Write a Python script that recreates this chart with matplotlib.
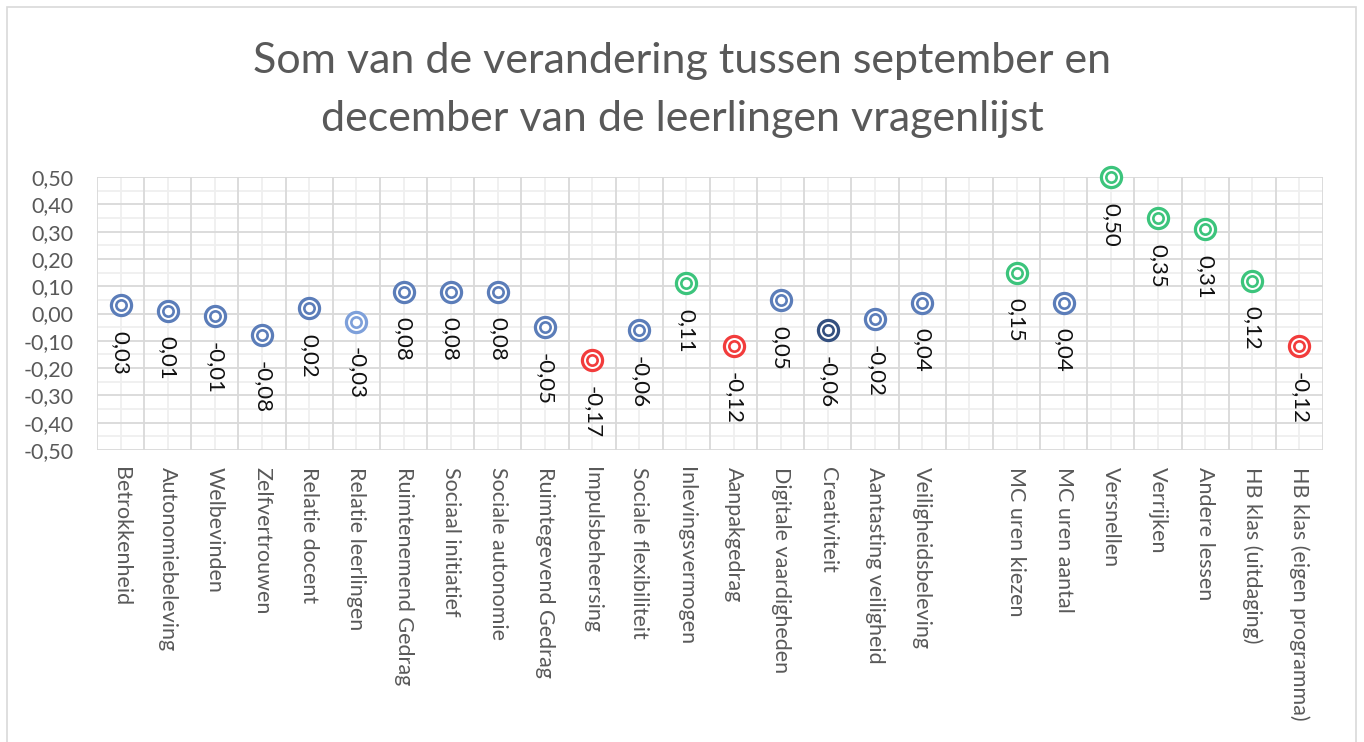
import matplotlib
matplotlib.use("Agg")
import matplotlib.pyplot as plt
from matplotlib.ticker import FixedLocator, FuncFormatter
from matplotlib.patches import Rectangle

plt.rcParams['font.family'] = ['Lato', 'DejaVu Sans']

title = "Som van de verandering tussen september en\ndecember van de leerlingen vragenlijst"

categories = ["Betrokkenheid", "Autonomiebeleving", "Welbevinden", "Zelfvertrouwen",
              "Relatie docent", "Relatie leerlingen", "Ruimtenemend Gedrag",
              "Sociaal initiatief", "Sociale autonomie", "Ruimtegevend Gedrag",
              "Impulsbeheersing", "Sociale flexibiliteit", "Inlevingsvermogen",
              "Aanpakgedrag", "Digitale vaardigheden", "Creativiteit",
              "Aantasting veiligheid", "Veiligheidsbeleving", "",
              "MC uren kiezen", "MC uren aantal", "Versnellen", "Verrijken",
              "Andere lessen", "HB klas (uitdaging)", "HB klas (eigen programma)"]

values = [0.03, 0.01, -0.01, -0.08, 0.02, -0.03, 0.08, 0.08, 0.08, -0.05,
          -0.17, -0.06, 0.11, -0.12, 0.05, -0.06, -0.02, 0.04, None,
          0.15, 0.04, 0.50, 0.35, 0.31, 0.12, -0.12]

BLUE = "#5B7DB9"
LBLUE = "#7EA0DA"
DBLUE = "#34507F"
GREEN = "#3CC47C"
RED = "#F23C3C"
colors = [BLUE, BLUE, BLUE, BLUE, BLUE, LBLUE, BLUE, BLUE, BLUE, BLUE,
          RED, BLUE, GREEN, RED, BLUE, DBLUE, BLUE, BLUE, None,
          GREEN, BLUE, GREEN, GREEN, GREEN, GREEN, RED]

yticks = [-0.5, -0.4, -0.3, -0.2, -0.1, 0.0, 0.1, 0.2, 0.3, 0.4, 0.5]

W, H = 1364, 742
fig = plt.figure(figsize=(W / 100, H / 100), dpi=100)
fig.patch.set_facecolor("white")

# chart border
fig.add_artist(Rectangle((7 / W, -0.05), (1356 - 7) / W, (H - 7) / H + 0.05,
                         transform=fig.transFigure, fill=False,
                         edgecolor="#D9D9D9", linewidth=1.2))

left, right, top, bottom = 97, 1323, 177, 450
ax = fig.add_axes([left / W, 1 - bottom / H, (right - left) / W, (bottom - top) / H])

n = len(categories)
ax.set_xlim(-0.5, n - 0.5)
ax.set_ylim(-0.5, 0.5)

# grid: light minor lines, darker major lines
for k in range(len(yticks) - 1):
    ax.axhline((yticks[k] + yticks[k + 1]) / 2, color="#EFEFEF", linewidth=1.3, zorder=0.5)
for x in range(n):
    ax.axvline(x, color="#EFEFEF", linewidth=1.3, zorder=0.5)
for y in yticks:
    ax.axhline(y, color="#D9D9D9", linewidth=1.3, zorder=0.6)
for x in [i + 0.5 for i in range(-1, n)]:
    ax.axvline(x, color="#D9D9D9", linewidth=1.3, zorder=0.6)

for s in ax.spines.values():
    s.set_visible(False)

ax.xaxis.set_major_locator(FixedLocator(list(range(n))))
ax.set_xticklabels(categories, rotation=-90, fontsize=15.5, color="#595959",
                   va="top", ha="center")
ax.yaxis.set_major_locator(FixedLocator(yticks))
ax.yaxis.set_major_formatter(FuncFormatter(lambda v, p: f"{v:.2f}".replace(".", ",").replace("-0,00", "0,00")))
ax.tick_params(axis="y", which="both", length=0, labelsize=15.5, labelcolor="#595959", pad=17)
ax.tick_params(axis="x", which="both", length=0, pad=12)

for i, (v, c) in enumerate(zip(values, colors)):
    if v is None:
        continue
    ax.scatter([i], [v], s=14.5 ** 2, facecolor="white", edgecolor=c, linewidth=2.3,
               zorder=3, clip_on=False)
    ax.scatter([i], [v], s=7.4 ** 2, facecolor="white", edgecolor=c, linewidth=1.9,
               zorder=4, clip_on=False)
    ax.annotate(f"{v:.2f}".replace(".", ","), (i, v), xytext=(0, -18.5),
                textcoords="offset points", rotation=-90, ha="center", va="top",
                fontsize=16, color="#111111", zorder=5)

fig.text(682 / W, 1 - 90 / H, title, ha="center", va="center", fontsize=31,
         color="#595959", linespacing=1.65)

fig.savefig("out.png", dpi=100, facecolor="white")
